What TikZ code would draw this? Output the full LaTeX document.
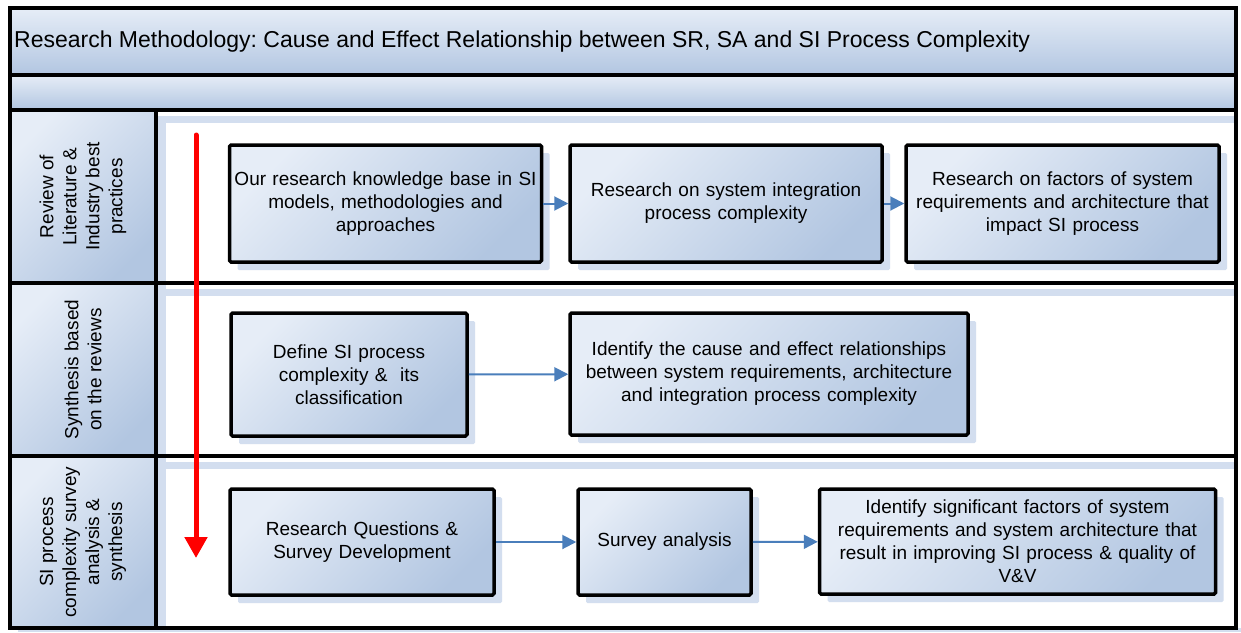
\documentclass[tikz,border=0pt]{standalone}
\usepackage{fontspec}
\setmainfont{Liberation Sans}
\frenchspacing
\usetikzlibrary{arrows.meta,shadows}
\definecolor{lightb}{HTML}{E6EDF7}
\definecolor{darkb}{HTML}{B2C6E1}
\definecolor{arrowb}{HTML}{4A7EBB}
\definecolor{shadowb}{HTML}{D3DEEF}
\definecolor{redarr}{HTML}{FF0000}
\begin{document}
\begin{tikzpicture}[x=1pt,y=-1pt,
  grad/.style={top color=lightb, bottom color=darkb, shading angle=45},
  vgrad/.style={top color=lightb, bottom color=darkb},
  frameline/.style={draw=black, line width=3.5pt},
  stepbox/.style={draw=black, line width=3.5pt, rounded corners=1.5pt, grad,
    align=center, font=\fontsize{19}{23}\selectfont, inner sep=2pt,
    drop shadow={shadow xshift=8pt, shadow yshift=-8pt, fill=shadowb, opacity=1}},
  headtext/.style={rotate=90, align=center, font=\fontsize{19}{23}\selectfont},
  flow/.style={draw=arrowb, line width=2pt, -{Triangle[length=14pt,width=14pt]}},
  strip/.style={fill=shadowb}]
\useasboundingbox (0,0) rectangle (1241,632);
\fill[white] (0,0) rectangle (1241,632);
% title bands
\path[vgrad] (10,8) rectangle (1236,75);
\path[vgrad] (10,75) rectangle (1236,110);
\node[anchor=west, font=\fontsize{23}{27}\selectfont, inner sep=0pt] (title) at (14,42)
  {Research Methodology: Cause and Effect Relationship between SR, SA and SI Process Complexity};
% lane shadow strips
\fill[strip] (158,116) rectangle (1236,123);
\fill[strip] (158,116) rectangle (166,628);
\fill[strip] (18,289) rectangle (1236,296);
\fill[strip] (18,462) rectangle (1236,469);
\fill[strip] (18,628) rectangle (1241,632);
% header cells
\path[grad] (10,110) rectangle (156,283);
\path[grad] (10,283) rectangle (156,456);
\path[grad] (10,456) rectangle (156,628);
\node[headtext] (h1) at (83,196.5) {Review of\\Literature \&\\Industry best\\practices};
\node[headtext] (h2) at (83,369.5) {Synthesis based\\on the reviews};
\node[headtext] (h3) at (83,542) {SI process\\complexity survey\\analysis \&\\synthesis};
% frame lines
\draw[frameline] (10,8) rectangle (1236,628);
\draw[frameline] (10,75) -- (1236,75);
\draw[frameline] (10,110) -- (1236,110);
\draw[frameline] (10,283) -- (1236,283);
\draw[frameline] (10,456) -- (1236,456);
\draw[frameline] (156,110) -- (156,628);
% red arrow
\coordinate (rs) at (196,135);
\coordinate (re) at (196,558);
\draw[draw=redarr, line width=5pt, line cap=round, -{Triangle[length=21pt,width=22pt]}] (rs) -- (re);
% boxes
\node[stepbox, minimum width=311pt, minimum height=117pt, text width=308pt] (b1) at (385.5,203.5)
  {Our research knowledge base in SI\\models, methodologies and\\approaches};
\node[stepbox, minimum width=312pt, minimum height=117pt, text width=305pt] (b2) at (726,203.5)
  {Research on system integration\\process complexity};
\node[stepbox, minimum width=313pt, minimum height=117pt, text width=308pt] (b3) at (1062.5,203.5)
  {Research on factors of system\\requirements and architecture that\\impact SI process};
\node[stepbox, minimum width=236pt, minimum height=123pt, text width=230pt] (b4) at (349,374.5)
  {Define SI process\\complexity \&\ \ its\\classification};
\node[stepbox, minimum width=398pt, minimum height=122pt, text width=392pt] (b5) at (769,374)
  {Identify the cause and effect relationships\\between system requirements, architecture\\and integration process complexity};
\node[stepbox, minimum width=264pt, minimum height=106pt, text width=258pt] (b6) at (362,542)
  {Research Questions \&\\Survey Development};
\node[stepbox, minimum width=173pt, minimum height=106pt, text width=168pt] (b7) at (664.5,542)
  {Survey analysis};
\node[stepbox, minimum width=395pt, minimum height=105pt, text width=392pt] (b8) at (1017.5,541.5)
  {Identify significant factors of system\\requirements and system architecture that\\result in improving SI process \& quality of\\V\&V};
% connectors
\draw[flow] (b1) -- (b2);
\draw[flow] (b2) -- (b3);
\draw[flow] (b4) -- (b5);
\draw[flow] (b6) -- (b7);
\draw[flow] (b7) -- (b8);
\end{tikzpicture}
\end{document}
